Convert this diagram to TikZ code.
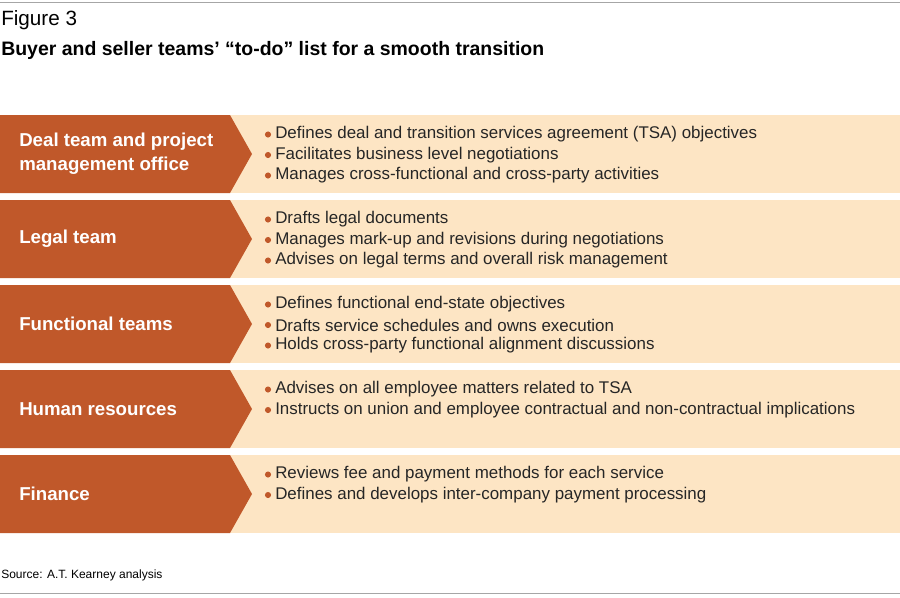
\documentclass[tikz,border=0pt]{standalone}
\usepackage{fontspec}
\setmainfont{Liberation Sans}
\definecolor{org}{HTML}{C0582A}
\definecolor{peach}{HTML}{FDE5C4}
\begin{document}
\begin{tikzpicture}[x=0.75pt,y=-0.75pt,
  lab/.style={anchor=west,text=white,font=\bfseries\fontsize{14}{18}\selectfont,align=left,inner sep=0pt},
  item/.style={anchor=west,font=\fontsize{12.7}{15.75}\selectfont,text=black!85,align=left},
  bul/.style={circle,fill=org,inner sep=0pt,minimum size=4.6pt}]
\useasboundingbox (0,0) rectangle (900,597);
\draw[gray!70,line width=0.6pt] (0,2) -- (900,2);
\draw[gray!70,line width=0.6pt] (0,593) -- (900,593);
\node[anchor=west,font=\fontsize{15.5}{18}\selectfont,inner sep=0pt] (fig) at (1,20) {Figure 3};
\node[anchor=west,font=\bfseries\fontsize{14.6}{17}\selectfont,inner sep=0pt] (title) at (1,50) {Buyer and seller teams’ “to-do” list for a smooth transition};
\node[anchor=west,font=\fontsize{9}{10}\selectfont,inner sep=0pt] (src) at (1,575) {Source: A.T. Kearney analysis};
\foreach \t/\lbl/\items [count=\i] in {
  115/{Deal team and project\\management office}/{Defines deal and transition services agreement (TSA) objectives,Facilitates business level negotiations,Manages cross-functional and cross-party activities},
  200/{Legal team}/{Drafts legal documents,Manages mark-up and revisions during negotiations,Advises on legal terms and overall risk management},
  285/{Functional teams}/{Defines functional end-state objectives,Drafts service schedules and owns execution,Holds cross-party functional alignment discussions},
  370/{Human resources}/{Advises on all employee matters related to TSA,Instructs on union and employee contractual and non-contractual implications},
  455/{Finance}/{Reviews fee and payment methods for each service,Defines and develops inter-company payment processing}} {
  \pgfmathsetmacro{\b}{\t+78}
  \pgfmathsetmacro{\m}{\t+39}
  \fill[peach] (230,\t) rectangle (900,\b);
  \fill[org] (0,\t) -- (230,\t) -- (252,\m) -- (230,\b) -- (0,\b) -- cycle;
  \node[lab] (l\i) at (19,\m) {\lbl};
  \foreach \it [count=\j] in \items {
    \pgfmathsetmacro{\yy}{\t+19.5+20.5*(\j-1)}
    \node[bul] (b\i\j) at (268,\yy) {};
    \node[item,inner sep=0pt] (t\i\j) at (275,\yy) {\it};
  }
}
\end{tikzpicture}
\end{document}
